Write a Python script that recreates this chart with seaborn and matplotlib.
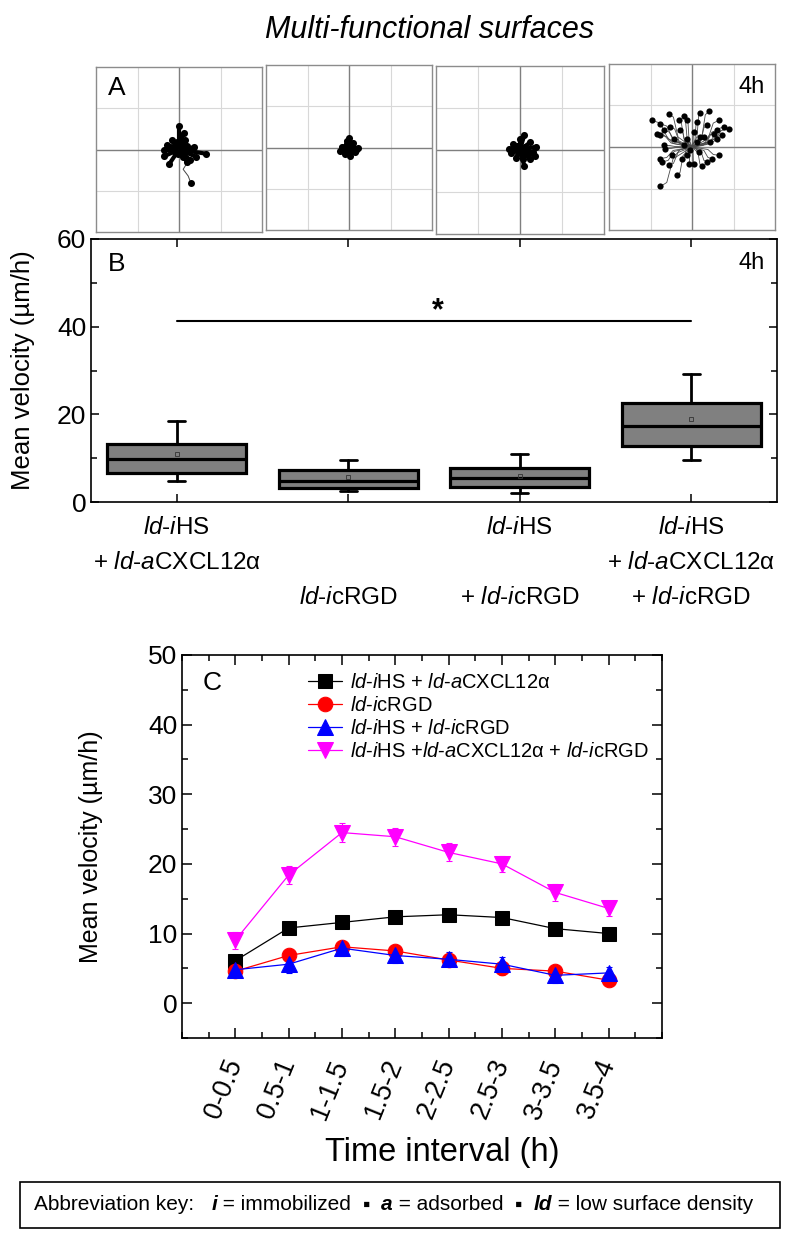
import matplotlib

matplotlib.use("Agg")
import matplotlib.pyplot as plt
import matplotlib.transforms as mtransforms
import numpy as np
import pandas as pd
import seaborn as sns
from matplotlib import font_manager
from matplotlib.offsetbox import AnchoredOffsetbox, HPacker, TextArea
from matplotlib.patches import Rectangle
from matplotlib.ticker import MultipleLocator

# ---- panel A: end points of the cell tracks (um), one list per surface ----
end_x_1 = [0, 11, -17, -29, -35, -35, -24, -5, 3, 19, 35, 42, 64, 27, 19, 10, -9, -14, -3, -21, 15, 27, 7, -6, 4, -10, 12]
end_y_1 = [56, 40, 22, 10, -2, -16, -36, 10, 14, 8, 5, -18, -10, -26, -30, -18, -6, 5, -11, 5, 22, -2, 2, 18, -4, -2, 6]
long_track_x = [0, 14, 20, 10, 16, 22, 29]
long_track_y = [0, -18, -32, -48, -56, -64, -82]

end_x_2 = [0, -6, -18, -21, -10, 2, 14, 22, 10, -2, 6, -13, 16, -5, 8, -8]
end_y_2 = [24, 16, 2, -8, -16, -20, -12, 0, 12, -4, 2, -2, -6, 8, -8, 4]

end_x_3 = [10, 0, -16, -26, -22, -10, 10, 24, 36, 39, 24, 12, -4, 4, 16, -12, 8, 32, -6, 20]
end_y_3 = [35, 26, 14, 3, -6, -18, -37, -22, -14, 8, 18, 8, -5, -13, -2, 2, -22, -5, 10, -10]

end_x_4 = [-56, -20, 20, 40, 64, 88, 76, 60, -76, -52, -32, -12, 12, 36, 52, -76, -68, -64, -76, -72,
           -56, -36, -76, -8, 4, 24, 36, 48, 64, 16, -4, -20, -44, -28, 4, 28, 44, 12, -68, 60,
           72, -48, -24, -12, -84, -96, 20, -12]
end_y_4 = [80, 75, 83, 86, 64, 44, 48, 40, 56, 48, 64, 64, 60, 52, 32, 28, 4, -4, -28, -36,
           -44, -68, -95, -40, -40, -46, -36, -28, -20, -12, -8, 4, 20, 40, 36, 24, 12, 12, 40, 20,
           28, -20, -28, -20, 32, 64, 24, 20]

# ---- panel B: box statistics of the mean velocity after 4 h (um/h) ----
box_q1 = [6.6, 3.2, 3.5, 12.8]
box_median = [9.7, 4.7, 5.4, 17.4]
box_q3 = [13.3, 7.2, 7.8, 22.5]
box_low = [4.8, 2.4, 2.05, 9.6]
box_high = [18.5, 9.6, 10.9, 29.2]
box_mean = [11.0, 5.6, 5.9, 18.9]
sig_level = 41.3

LD_IHS = r"$\mathit{ld}$-$\mathit{i}$HS"
LD_ACX = r"$\mathit{ld}$-$\mathit{a}$CXCL12α"
LD_ICRGD = r"$\mathit{ld}$-$\mathit{i}$cRGD"

group_lines = [
    [LD_IHS, "+ " + LD_ACX, ""],
    ["", "", LD_ICRGD],
    [LD_IHS, "", "+ " + LD_ICRGD],
    [LD_IHS, "+ " + LD_ACX, "+ " + LD_ICRGD],
]

# ---- panel C: mean velocity per time interval (um/h) ----
intervals = ["0-0.5", "0.5-1", "1-1.5", "1.5-2", "2-2.5", "2.5-3", "3-3.5", "3.5-4"]
vel_hs_cxcl = [6.1, 10.8, 11.6, 12.4, 12.7, 12.3, 10.7, 10.0]
vel_crgd = [4.6, 6.85, 8.1, 7.5, 6.2, 5.0, 4.6, 3.3]
vel_hs_crgd = [4.8, 5.6, 7.9, 6.85, 6.3, 5.6, 4.0, 4.35]
vel_all = [9.05, 18.4, 24.5, 23.9, 21.65, 20.0, 15.9, 13.6]
err_hs_cxcl = [0.6, 0.7, 0.7, 0.7, 0.7, 0.7, 0.6, 0.6]
err_crgd = [0.8, 0.9, 0.9, 0.9, 0.9, 0.9, 0.8, 0.8]
err_hs_crgd = [1.0, 1.3, 1.1, 1.1, 1.0, 1.0, 1.1, 0.9]
err_all = [1.2, 1.3, 1.4, 1.3, 1.3, 1.2, 1.2, 1.1]

series_labels = [
    LD_IHS + " + " + LD_ACX,
    LD_ICRGD,
    LD_IHS + " + " + LD_ICRGD,
    LD_IHS + " +" + LD_ACX + " + " + LD_ICRGD,
]

sns.set_style("ticks")
plt.rcParams["font.family"] = ["Liberation Sans", "DejaVu Sans"]
plt.rcParams["mathtext.fontset"] = "custom"
plt.rcParams["mathtext.rm"] = "Liberation Sans"
plt.rcParams["mathtext.it"] = "Liberation Sans:italic"
plt.rcParams["mathtext.bf"] = "Liberation Sans:bold"
plt.rcParams["axes.linewidth"] = 1.2
for key in ("text.color", "axes.labelcolor", "axes.edgecolor", "xtick.color", "ytick.color"):
    plt.rcParams[key] = "black"

installed = {f.name for f in font_manager.fontManager.ttflist}
narrow = "Liberation Sans Narrow" if "Liberation Sans Narrow" in installed else None

fig = plt.figure(figsize=(8, 12.43), dpi=100)
W, H = 800, 1243


def px_axes(x0, y0, x1, y1):
    return fig.add_axes([x0 / W, 1 - y1 / H, (x1 - x0) / W, (y1 - y0) / H])


fig.text(430 / W, 1 - 30 / H, "Multi-functional surfaces", ha="center", va="center",
         fontsize=22, style="italic")

# ---------------- panel A ----------------
track_sets = [(end_x_1, end_y_1), (end_x_2, end_y_2), (end_x_3, end_y_3), (end_x_4, end_y_4)]
a_boxes = [(96, 67, 262, 232), (266, 65, 432, 230), (436, 66, 604, 234), (609, 64, 775, 230)]
for i, ((ex, ey), box) in enumerate(zip(track_sets, a_boxes)):
    ax = px_axes(*box)
    ax.set_xlim(-200, 200)
    ax.set_ylim(-200, 200)
    for g in (-100, 100):
        ax.axvline(g, color="#d8d8d8", lw=0.8, zorder=0)
        ax.axhline(g, color="#d8d8d8", lw=0.8, zorder=0)
    ax.axvline(0, color="#7f7f7f", lw=1.0, zorder=1)
    ax.axhline(0, color="#7f7f7f", lw=1.0, zorder=1)
    for x, y in zip(ex, ey):
        if i == 3:
            ax.plot([0, x * 0.6, x * 0.8, x], [0, y * 0.3, y * 0.9, y], color="#4a4a4a",
                    lw=0.6, zorder=2)
        else:
            ax.plot([0, x], [0, y], color="k", lw=3.0, zorder=2, solid_capstyle="round")
    if i == 0:
        ax.plot(long_track_x, long_track_y, color="#444444", lw=0.7, zorder=2)
        ax.plot(long_track_x[-1], long_track_y[-1], "o", color="k", ms=4, zorder=3)
    sns.scatterplot(x=ex, y=ey, ax=ax, color="k", s=20 if i == 3 else 26,
                    edgecolor="k", linewidth=0, zorder=3)
    ax.set_xticks([])
    ax.set_yticks([])
    for sp in ax.spines.values():
        sp.set_color("#8c8c8c")
        sp.set_linewidth(1.0)
    if i == 0:
        ax.text(0.127, 0.87, "A", transform=ax.transAxes, fontsize=19, ha="center", va="center")
    if i == 3:
        ax.text(0.94, 0.86, "4h", transform=ax.transAxes, fontsize=17, ha="right", va="center")

# ---------------- panel B ----------------
axb = px_axes(91, 239, 777, 502)
stats = []
for k in range(4):
    stats.append(dict(med=box_median[k], q1=box_q1[k], q3=box_q3[k], whislo=box_low[k],
                      whishi=box_high[k], mean=box_mean[k], fliers=[]))
axb.bxp(stats, positions=range(4), widths=0.81, patch_artist=True, showmeans=True,
        showfliers=False, capwidths=0.1,
        boxprops=dict(facecolor="#808080", edgecolor="k", linewidth=2.3),
        medianprops=dict(color="k", linewidth=2.3),
        whiskerprops=dict(color="k", linewidth=2.0),
        capprops=dict(color="k", linewidth=2.0),
        meanprops=dict(marker="s", markerfacecolor="none", markeredgecolor="#333333",
                       markersize=3.5, markeredgewidth=0.6))
axb.plot([0, 3], [sig_level, sig_level], color="k", lw=1.5)
axb.text(1.52, sig_level + 2.2, "*", ha="center", va="center", fontsize=22, weight="bold")
axb.set_xlim(-0.5, 3.5)
axb.set_ylim(0, 60)
axb.yaxis.set_major_locator(MultipleLocator(20))
axb.yaxis.set_minor_locator(MultipleLocator(10))
axb.set_xticks(range(4))
axb.set_xticklabels([])
axb.tick_params(axis="both", which="both", direction="in", top=True, right=True, width=1.1)
axb.tick_params(axis="both", which="major", length=6, labelsize=19)
axb.tick_params(axis="both", which="minor", length=4)
axb.set_ylabel("Mean velocity (µm/h)", fontsize=18.5)
axb.yaxis.set_label_coords(-0.082, 0.5)
trans_b = mtransforms.blended_transform_factory(axb.transData, axb.transAxes)
line_y = [-0.099, -0.232, -0.365]
for k, lines in enumerate(group_lines):
    for y, txt in zip(line_y, lines):
        if txt:
            axb.text(k, y, txt, transform=trans_b, ha="center", va="center", fontsize=17.5)
axb.text(0.038, 0.905, "B", transform=axb.transAxes, fontsize=19, ha="center", va="center")
axb.text(0.982, 0.91, "4h", transform=axb.transAxes, fontsize=17, ha="right", va="center")

# ---------------- panel C ----------------
axc = px_axes(182, 655, 662, 1038)
series = [
    (vel_hs_cxcl, err_hs_cxcl, "black", "s", 10),
    (vel_crgd, err_crgd, "#ff0000", "o", 10.5),
    (vel_hs_crgd, err_hs_crgd, "#0000ff", "^", 11),
    (vel_all, err_all, "#ff00ff", "v", 11),
]
pos = np.arange(len(intervals))
for (vals, errs, col, mk, ms), lab in zip(series, series_labels):
    df = pd.DataFrame({"pos": pos, "velocity": vals})
    axc.errorbar(pos, vals, yerr=errs, fmt="none", ecolor=col, elinewidth=0.8,
                 capsize=2.5, capthick=0.8, zorder=2)
    sns.lineplot(data=df, x="pos", y="velocity", ax=axc, color=col, marker=mk,
                 markersize=ms, markeredgecolor=col, linewidth=0.9, label=lab, zorder=3)
axc.set_xlim(-1, 8)
axc.set_ylim(-5, 50)
axc.set_xticks(pos)
axc.set_xticklabels(intervals, rotation=68, ha="right", va="center", rotation_mode="anchor")
axc.xaxis.set_minor_locator(MultipleLocator(0.5))
axc.yaxis.set_major_locator(MultipleLocator(10))
axc.yaxis.set_minor_locator(MultipleLocator(5))
axc.tick_params(axis="both", which="both", direction="in", top=True, right=True, width=1.1)
axc.tick_params(axis="both", which="major", length=7, labelsize=19)
axc.tick_params(axis="x", which="major", pad=16, labelsize=19.5)
axc.tick_params(axis="both", which="minor", length=4)
axc.set_xlabel("")
axc.set_ylabel("Mean velocity (µm/h)", fontsize=18)
axc.yaxis.set_label_coords(-0.165, 0.5)
axc.legend(loc="upper left", bbox_to_anchor=(0.245, 0.975), frameon=False, fontsize=14.5,
           handlelength=1.7, handletextpad=0.4, labelspacing=0.2, borderaxespad=0)
axc.text(0.0625, 0.927, "C", transform=axc.transAxes, fontsize=19, ha="center", va="center")

xlab_font = dict(fontsize=27, family=narrow) if narrow else dict(fontsize=23.5)
fig.text(442 / W, 1 - 1153 / H, "Time interval (h)", ha="center", va="center", **xlab_font)

# ---------------- abbreviation key ----------------
fig.add_artist(Rectangle((20 / W, 1 - 1228 / H), 760 / W, 46 / H, transform=fig.transFigure,
                         fill=False, edgecolor="k", linewidth=1.2))
key_family = [narrow, "DejaVu Sans"] if narrow else ["Liberation Sans", "DejaVu Sans"]
key_size = 17 if narrow else 15
plain = dict(fontsize=key_size, family=key_family)
bold_it = dict(fontsize=key_size, family=key_family, weight="bold", style="italic")
key_parts = [
    ("Abbreviation key:   ", plain), ("i", bold_it), (" = immobilized  ", plain),
    ("▪", plain), ("  ", plain), ("a", bold_it), (" = adsorbed  ", plain), ("▪", plain),
    ("  ", plain), ("ld", bold_it), (" = low surface density", plain),
]
pack = HPacker(children=[TextArea(t, textprops=p) for t, p in key_parts], pad=0, sep=0,
               align="baseline")
anchored = AnchoredOffsetbox(loc="center left", child=pack, frameon=False, pad=0, borderpad=0,
                             bbox_to_anchor=(34 / W, 1 - 1205 / H),
                             bbox_transform=fig.transFigure)
fig.add_artist(anchored)

fig.savefig("out.png", dpi=100)
